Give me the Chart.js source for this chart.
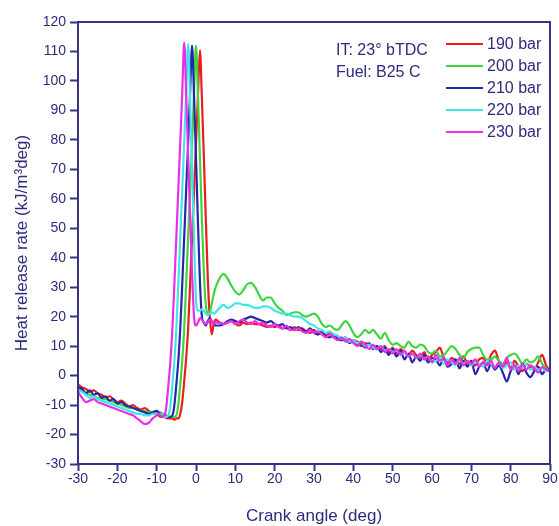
<!DOCTYPE html>
<html>
<head>
<meta charset="utf-8">
<script src="https://cdn.jsdelivr.net/npm/chart.js@4/dist/chart.umd.min.js"></script>
<style>
  html, body { margin: 0; padding: 0; background: #fff; }
  #hrr { display: block; }
</style>
</head>
<body>
<canvas id="hrr" width="559" height="526"></canvas>
<script>
// crank angle grid (deg): 1 deg steps, 0.5 deg steps around the peak
const angles = [
  -30, -29, -28, -27, -26, -25, -24, -23, -22, -21, -20, -19, -18, -17, -16, -15, -14, -13, -12, -11, -10,
  -9.5, -9, -8.5, -8, -7.5, -7, -6.5, -6, -5.5, -5,
  -4.5, -4, -3.5, -3, -2.5, -2, -1.5, -1, -0.5, 0,
  0.5, 1, 1.5, 2, 2.5, 3, 3.5, 4, 4.5, 5,
  6, 7, 8, 9, 10, 11, 12, 13, 14, 15,
  16, 17, 18, 19, 20, 21, 22, 23, 24, 25,
  26, 27, 28, 29, 30, 31, 32, 33, 34, 35,
  36, 37, 38, 39, 40, 41, 42, 43, 44, 45,
  46, 47, 48, 49, 50, 51, 52, 53, 54, 55,
  56, 57, 58, 59, 60, 61, 62, 63, 64, 65,
  66, 67, 68, 69, 70, 71, 72, 73, 74, 75,
  76, 77, 78, 79, 80, 81, 82, 83, 84, 85,
  86, 87, 88, 89, 90
];

// heat release rate (kJ/m3deg)
const hrr190 = [
  -3, -4, -4.5, -5.5, -5, -6, -6.5, -7.5, -7, -8, -9, -8.5, -9.5, -10.5, -10, -11, -11.5, -11, -12, -12.5, -12,
  -13.5, -14, -14, -14, -14.5, -14.5, -14.5, -14.5, -15, -14.5,
  -14.5, -13, -9, -2, 6, 16, 31, 47, 63, 79,
  95, 110.5, 94, 74, 53, 33, 20, 14, 17.5, 19,
  18, 17.5, 18, 18.5, 17.5, 17, 18, 17.5, 18, 17.5,
  17.5, 17, 16.5, 17, 16.5, 17, 16, 16.5, 15.5, 16.5,
  15.5, 16, 15, 14.5, 15.5, 14, 14.5, 13.5, 14.5, 13,
  13.5, 12, 12.5, 11.5, 12, 11.5, 10, 11, 10.5, 9.5,
  10, 9, 10, 8, 9.5, 7.5, 9, 8, 7, 8.5,
  7, 6, 8, 5.5, 7, 8, 9.5, 6, 4.5, 6,
  5, 4, 6.5, 4, 5, 3.5, 5.5, 6, 4, 7,
  8.5, 5, 3, 4.5, 2.5, 5, 3, 1.5, 4, 3,
  2, 4.5, 7, 3.5, 1.5
];
const hrr200 = [
  -4.5, -5, -6, -6.5, -7, -7.5, -8, -8, -8.5, -9, -9.5, -10, -10.5, -11, -11, -11.5, -12, -12, -12.5, -12.5, -12.5,
  -12.5, -12.5, -13, -13, -13.5, -14, -14, -14, -14, -13.5,
  -10, -3, 5, 16, 31, 47, 63, 79, 96, 112,
  95, 74, 53, 35, 24, 21, 21.5, 24.5, 27.5, 30,
  33, 34.5, 33, 30.5, 28.5, 27.5, 29, 31, 31.5, 30,
  27.5, 25.5, 26.5, 26.5, 24.5, 23, 22, 20.5, 21, 21.5,
  21.5, 20.5, 20, 20.5, 21, 20, 17.5, 16.5, 17, 16,
  15.5, 17, 18.5, 17, 14.5, 13, 14, 15.5, 14.5, 15.5,
  14, 12.5, 14.5, 12, 10.5, 11, 10, 9.5, 11.5, 10,
  9.5, 10.5, 10, 8, 7.5, 8.5, 6.5, 7, 8.5, 10,
  9, 7, 6, 8, 9, 9.5, 9.5, 7, 5.5, 5.5,
  6.5, 5, 4, 6, 7, 7.5, 6, 4, 5.5, 4.5,
  5, 6.5, 4, 2.5, 1.5
];
const hrr210 = [
  -4, -4.5, -6, -5, -6.5, -6, -7.5, -7, -8.5, -8, -9.5, -9, -10, -10.5, -11, -11.5, -12, -12.5, -13, -12.5, -12,
  -12.5, -13, -13.5, -13.5, -14, -14, -14, -13.5, -10, -3,
  5, 16, 31, 47, 63, 79, 96, 112, 95, 74,
  52, 32, 20, 18, 17, 18.5, 19.5, 18.5, 17.5, 17,
  17, 17.5, 18.5, 19, 18.5, 18, 19, 19.5, 20, 19.5,
  19, 18.5, 18, 18.5, 17.5, 17, 17.5, 16, 16.5, 15.5,
  16.5, 15.5, 15, 16, 14.5, 14, 15, 13.5, 13, 14,
  12.5, 12, 13, 11, 12, 10.5, 11, 9.5, 11, 9,
  10, 8, 9.5, 7, 9, 6.5, 8.5, 5.5, 7.5, 4.5,
  6.5, 5, 7, 4.5, 6, 5.5, 3.5, 6, 3, 4,
  5.5, 2.5, 5, 3, 5, 0.5, 3, 4.5, 1.5, 4,
  2, 3.5, 1, -2, 1.5, 3.5, 0.5, 4, 1, -0.5,
  1.5, 3, 0.5, 2, 1.5
];
const hrr220 = [
  -5, -5.5, -6.5, -7.5, -7, -8, -8.5, -9, -9.5, -10, -10.5, -11, -11.5, -12, -12.5, -13, -13, -13.5, -13.5, -13, -13,
  -13, -13, -13.5, -14, -14, -13.5, -10, -3, 5, 16,
  31, 47, 63, 79, 96, 112.5, 93, 70, 46, 26,
  22, 22, 22.5, 22, 21, 20.5, 21, 21.5, 21, 21.5,
  23, 24, 23, 23.5, 24.5, 24.5, 24, 24, 23.5, 23,
  23, 23.5, 23.5, 23, 22, 21.5, 21, 21, 20.5, 20,
  20, 19.5, 18.5, 17.5, 17, 16, 15.5, 14.5, 15, 14,
  13.5, 12.5, 13, 11.5, 12, 11, 11.5, 10, 10.5, 9.5,
  9, 10, 8.5, 9, 8, 8.5, 7, 8, 6.5, 7.5,
  6, 7, 5.5, 6.5, 4.5, 5, 6, 4, 5.5, 4.5,
  3.5, 5.5, 4, 5, 3.5, 5, 4, 3, 5, 4,
  3, 4.5, 2.5, 3.5, 4.5, 2, 3.5, 2.5, 4, 2,
  3, 2, 2.5, 1.5, 1.5
];
const hrr230 = [
  -5.5, -7.5, -9, -8.5, -8, -9, -9.5, -10, -10.5, -11, -11.5, -12, -12.5, -13, -13.5, -14.5, -15.5, -16.5, -16, -14.5, -13.5,
  -13, -13.5, -14, -13.5, -10, -3, 5, 16, 31, 47,
  63, 79, 96, 113, 96, 75, 54, 35, 20, 17,
  18, 19.5, 19, 18, 17.5, 18, 19, 18.5, 17.5, 18,
  18, 17.5, 18, 18.5, 17.5, 18.5, 19, 18, 17.5, 18.5,
  17.5, 18, 17, 16.5, 17.5, 16.5, 16, 17, 15.5, 15.5,
  16, 15, 14.5, 15.5, 14.5, 15, 14, 13, 14, 13,
  12, 13, 11.5, 12.5, 11, 10, 11.5, 10.5, 9, 10.5,
  9, 10, 8, 9, 7.5, 9, 7, 8.5, 6.5, 7.5,
  6, 7.5, 5.5, 6.5, 4.5, 7, 5, 6, 3.5, 5.5,
  4, 6, 3.5, 5, 4, 5.5, 3, 4.5, 3.5, 5,
  2.5, 4.5, 3, 6, 2, 3.5, 1.5, 4, 2, 3.5,
  2.5, 1, 3, 2, 1.5
];

const seriesLabels = ['190 bar', '200 bar', '210 bar', '220 bar', '230 bar'];
const seriesValues = [hrr190, hrr200, hrr210, hrr220, hrr230];
const seriesColors = ['#ec1c1c', '#3ed63e', '#2626ac', '#40e6e6', '#ea2eea'];
const noteLines = ['IT: 23\u00B0 bTDC', 'Fuel: B25 C'];

const navy = '#34348a';
const textNavy = '#2c2c7c';
const fontFamily = "'Liberation Sans', Arial, sans-serif";

seriesValues.forEach((vals, i) => {
    if (vals.length !== angles.length) {
        console.error(seriesLabels[i] + ': ' + vals.length + ' values, expected ' + angles.length);
    }
});

const datasets = seriesValues.map((vals, i) => ({
    label: seriesLabels[i],
    data: vals.map((v, k) => ({ x: angles[k], y: v })),
    borderColor: seriesColors[i],
    borderWidth: 2.2,
    pointRadius: 0,
    fill: false,
    cubicInterpolationMode: 'monotone',
    order: seriesLabels.length - i
}));

// box around the plot, legend and the text note
const framePlugin = {
    id: 'frameAndLegend',
    afterDraw(chart) {
        const { ctx, chartArea } = chart;
        ctx.save();
        ctx.strokeStyle = navy;
        ctx.lineWidth = 2;
        ctx.strokeRect(chartArea.left, chartArea.top, chartArea.right - chartArea.left, chartArea.bottom - chartArea.top);

        ctx.font = '16px ' + fontFamily;
        ctx.fillStyle = textNavy;
        ctx.textBaseline = 'middle';
        ctx.textAlign = 'left';
        noteLines.forEach((t, i) => ctx.fillText(t, 336, 51 + i * 22));

        seriesLabels.forEach((lab, i) => {
            const y = 44 + i * 22;
            ctx.strokeStyle = seriesColors[i];
            ctx.lineWidth = 2;
            ctx.beginPath();
            ctx.moveTo(446, y);
            ctx.lineTo(483, y);
            ctx.stroke();
            ctx.fillStyle = textNavy;
            ctx.fillText(lab, 487, y + 1);
        });
        ctx.restore();
    }
};

new Chart(document.getElementById('hrr'), {
    type: 'line',
    data: { datasets: datasets },
    options: {
        responsive: false,
        animation: false,
        devicePixelRatio: 1,
        layout: { padding: { left: 0, right: 9, top: 22, bottom: 0 } },
        plugins: {
            legend: { display: false },
            tooltip: { enabled: false }
        },
        scales: {
            x: {
                type: 'linear',
                min: -30,
                max: 90,
                afterFit(scale) { scale.height = 62; },
                ticks: {
                    stepSize: 10,
                    color: textNavy,
                    font: { family: fontFamily, size: 14 },
                    padding: 0,
                    maxRotation: 0
                },
                grid: { drawOnChartArea: false, tickLength: 7, tickWidth: 2, tickColor: navy },
                border: { display: false },
                title: {
                    display: true,
                    text: 'Crank angle (deg)',
                    color: textNavy,
                    font: { family: fontFamily, size: 17 },
                    padding: { top: 0, bottom: -1 }
                }
            },
            y: {
                type: 'linear',
                min: -30,
                max: 120,
                afterFit(scale) { scale.width = 78; },
                ticks: {
                    stepSize: 10,
                    color: textNavy,
                    font: { family: fontFamily, size: 14 },
                    padding: 4
                },
                grid: { drawOnChartArea: false, tickLength: 8, tickWidth: 2, tickColor: navy },
                border: { display: false },
                title: {
                    display: true,
                    text: 'Heat release rate (kJ/m\u00B3deg)',
                    color: textNavy,
                    font: { family: fontFamily, size: 17 },
                    padding: { top: 12, bottom: 0 }
                }
            }
        }
    },
    plugins: [framePlugin]
});
</script>
</body>
</html>
